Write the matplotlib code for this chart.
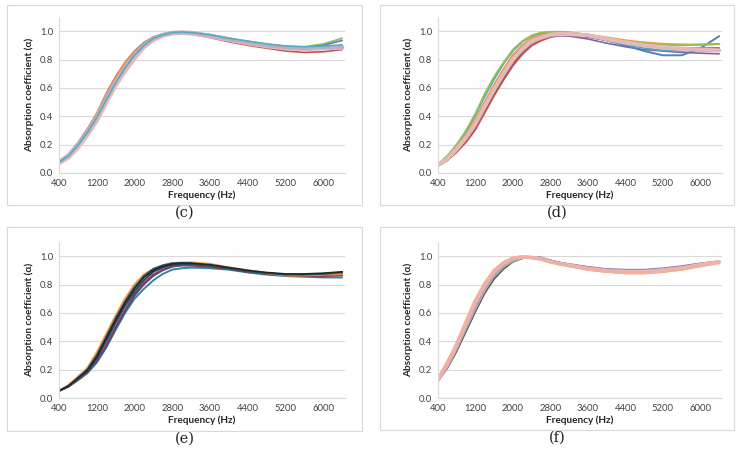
import matplotlib
matplotlib.use("Agg")
import matplotlib.pyplot as plt
from matplotlib.patches import Rectangle

# frequency points (Hz), shared by all panels
freq = [400, 600, 800, 1000, 1200, 1400, 1600, 1800, 2000, 2200, 2400, 2600,
        2800, 3000, 3200, 3600, 4000, 4400, 4800, 5200, 5600, 6000, 6400]

# panel (c)
alpha_c = [
    [0.08, 0.13, 0.21, 0.31, 0.42, 0.56, 0.68, 0.78, 0.86, 0.92, 0.96, 0.98, 0.99, 0.99, 0.98, 0.955, 0.925, 0.90, 0.88, 0.86, 0.85, 0.855, 0.87],
    [0.085, 0.13, 0.215, 0.31, 0.42, 0.555, 0.675, 0.775, 0.855, 0.915, 0.96, 0.98, 0.99, 0.99, 0.985, 0.96, 0.935, 0.91, 0.89, 0.875, 0.87, 0.875, 0.88],
    [0.075, 0.12, 0.20, 0.29, 0.40, 0.53, 0.65, 0.75, 0.84, 0.91, 0.955, 0.98, 0.99, 0.995, 0.99, 0.975, 0.95, 0.93, 0.91, 0.895, 0.89, 0.91, 0.95],
    [0.075, 0.12, 0.195, 0.285, 0.39, 0.515, 0.635, 0.74, 0.83, 0.90, 0.95, 0.975, 0.99, 0.995, 0.99, 0.97, 0.945, 0.925, 0.905, 0.89, 0.885, 0.90, 0.935],
    [0.07, 0.11, 0.18, 0.27, 0.37, 0.50, 0.62, 0.72, 0.81, 0.89, 0.94, 0.97, 0.985, 0.99, 0.985, 0.965, 0.94, 0.915, 0.895, 0.88, 0.875, 0.88, 0.885],
    [0.08, 0.125, 0.20, 0.29, 0.395, 0.525, 0.645, 0.745, 0.835, 0.90, 0.95, 0.975, 0.99, 0.99, 0.99, 0.97, 0.945, 0.92, 0.90, 0.885, 0.88, 0.885, 0.89],
    [0.075, 0.12, 0.195, 0.285, 0.39, 0.515, 0.635, 0.74, 0.83, 0.90, 0.95, 0.975, 0.99, 0.995, 0.99, 0.975, 0.95, 0.93, 0.91, 0.895, 0.89, 0.895, 0.905],
]
colors_c = ["#C0504D", "#F79646", "#9BBB59", "#4F81BD", "#E6B9B8", "#B7AFC9", "#4BACC6"]
widths_c = [1.2, 1.2, 1.3, 1.2, 3.2, 2.6, 1.0]

# panel (d)
alpha_d = [
    [0.05, 0.09, 0.15, 0.22, 0.31, 0.43, 0.55, 0.66, 0.76, 0.84, 0.90, 0.935, 0.96, 0.97, 0.97, 0.96, 0.94, 0.915, 0.895, 0.88, 0.87, 0.865, 0.86],
    [0.055, 0.10, 0.17, 0.25, 0.35, 0.47, 0.59, 0.70, 0.80, 0.87, 0.925, 0.95, 0.965, 0.97, 0.965, 0.945, 0.915, 0.89, 0.87, 0.86, 0.85, 0.845, 0.84],
    [0.055, 0.10, 0.16, 0.24, 0.34, 0.45, 0.57, 0.68, 0.78, 0.86, 0.92, 0.95, 0.97, 0.975, 0.975, 0.96, 0.935, 0.91, 0.895, 0.885, 0.88, 0.88, 0.88],
    [0.06, 0.11, 0.18, 0.27, 0.38, 0.50, 0.62, 0.73, 0.83, 0.90, 0.945, 0.97, 0.985, 0.99, 0.985, 0.965, 0.935, 0.90, 0.86, 0.83, 0.83, 0.88, 0.965],
    [0.06, 0.11, 0.18, 0.27, 0.38, 0.50, 0.62, 0.73, 0.83, 0.90, 0.95, 0.975, 0.99, 0.995, 0.99, 0.975, 0.955, 0.935, 0.92, 0.91, 0.905, 0.905, 0.91],
    [0.06, 0.12, 0.20, 0.29, 0.41, 0.54, 0.66, 0.77, 0.86, 0.925, 0.965, 0.985, 0.995, 0.995, 0.99, 0.97, 0.935, 0.905, 0.88, 0.865, 0.86, 0.865, 0.87],
    [0.06, 0.12, 0.20, 0.30, 0.42, 0.56, 0.68, 0.78, 0.87, 0.93, 0.97, 0.99, 0.995, 0.995, 0.99, 0.975, 0.95, 0.93, 0.915, 0.905, 0.90, 0.905, 0.91],
    [0.055, 0.10, 0.17, 0.25, 0.35, 0.47, 0.59, 0.70, 0.80, 0.875, 0.93, 0.955, 0.975, 0.98, 0.98, 0.97, 0.945, 0.92, 0.90, 0.885, 0.875, 0.87, 0.865],
]
colors_d = ["#C0504D", "#8064A2", "#1F497D", "#4F81BD", "#F79646", "#4BACC6", "#9BBB59", "#E6B9B8"]
widths_d = [1.6, 1.2, 1.2, 1.4, 1.6, 1.2, 1.4, 3.0]

# panel (e)
alpha_e = [
    [0.05, 0.08, 0.125, 0.175, 0.25, 0.355, 0.48, 0.60, 0.70, 0.77, 0.83, 0.875, 0.905, 0.915, 0.92, 0.915, 0.905, 0.885, 0.87, 0.86, 0.855, 0.85, 0.85],
    [0.05, 0.08, 0.13, 0.18, 0.26, 0.37, 0.50, 0.62, 0.73, 0.81, 0.87, 0.905, 0.93, 0.935, 0.935, 0.925, 0.91, 0.89, 0.875, 0.865, 0.86, 0.86, 0.865],
    [0.05, 0.08, 0.13, 0.18, 0.255, 0.36, 0.49, 0.61, 0.72, 0.80, 0.86, 0.90, 0.925, 0.935, 0.935, 0.93, 0.91, 0.89, 0.875, 0.865, 0.86, 0.865, 0.87],
    [0.05, 0.085, 0.14, 0.19, 0.28, 0.40, 0.53, 0.65, 0.75, 0.83, 0.89, 0.92, 0.94, 0.945, 0.945, 0.935, 0.915, 0.895, 0.88, 0.87, 0.865, 0.87, 0.875],
    [0.05, 0.09, 0.15, 0.21, 0.32, 0.45, 0.58, 0.70, 0.80, 0.87, 0.91, 0.935, 0.95, 0.955, 0.955, 0.945, 0.92, 0.90, 0.88, 0.865, 0.865, 0.87, 0.875],
    [0.05, 0.085, 0.14, 0.20, 0.30, 0.43, 0.56, 0.68, 0.78, 0.86, 0.91, 0.935, 0.95, 0.952, 0.95, 0.935, 0.915, 0.895, 0.88, 0.87, 0.87, 0.875, 0.885],
    [0.05, 0.085, 0.14, 0.195, 0.29, 0.42, 0.55, 0.67, 0.77, 0.85, 0.90, 0.93, 0.945, 0.95, 0.95, 0.94, 0.92, 0.90, 0.885, 0.875, 0.875, 0.88, 0.89],
]
colors_e = ["#31859C", "#953735", "#5F497A", "#1F497D", "#F79646", "#215967", "#262626"]
widths_e = [1.4, 1.4, 1.2, 1.4, 1.6, 1.4, 1.2]

# panel (f)
alpha_f = [
    [0.12, 0.21, 0.33, 0.47, 0.61, 0.74, 0.84, 0.91, 0.96, 0.985, 0.995, 0.99, 0.97, 0.955, 0.94, 0.92, 0.905, 0.90, 0.90, 0.91, 0.925, 0.945, 0.96],
    [0.12, 0.22, 0.34, 0.49, 0.63, 0.76, 0.86, 0.925, 0.965, 0.99, 0.995, 0.99, 0.97, 0.955, 0.945, 0.925, 0.91, 0.905, 0.905, 0.915, 0.93, 0.95, 0.965],
    [0.12, 0.22, 0.35, 0.49, 0.63, 0.76, 0.86, 0.925, 0.965, 0.99, 0.995, 0.99, 0.97, 0.955, 0.94, 0.92, 0.905, 0.90, 0.90, 0.91, 0.925, 0.945, 0.965],
    [0.12, 0.22, 0.35, 0.50, 0.64, 0.77, 0.87, 0.93, 0.97, 0.99, 0.995, 0.985, 0.965, 0.95, 0.94, 0.92, 0.905, 0.895, 0.895, 0.905, 0.92, 0.94, 0.96],
    [0.13, 0.24, 0.37, 0.52, 0.67, 0.79, 0.885, 0.945, 0.98, 0.995, 0.99, 0.98, 0.96, 0.945, 0.93, 0.905, 0.89, 0.88, 0.88, 0.89, 0.905, 0.93, 0.955],
    [0.13, 0.245, 0.375, 0.53, 0.68, 0.80, 0.895, 0.95, 0.985, 0.995, 0.99, 0.98, 0.96, 0.945, 0.935, 0.91, 0.895, 0.89, 0.89, 0.90, 0.915, 0.94, 0.96],
    [0.13, 0.25, 0.38, 0.54, 0.69, 0.81, 0.90, 0.955, 0.985, 0.995, 0.99, 0.98, 0.96, 0.945, 0.935, 0.91, 0.895, 0.885, 0.885, 0.895, 0.91, 0.935, 0.955],
]
colors_f = ["#4F6228", "#8064A2", "#95B3D7", "#B3A2C7", "#F79646", "#E6B9B8", "#F2B0A0"]
widths_f = [1.2, 1.2, 1.4, 1.6, 1.6, 2.6, 2.4]

xticks = [400, 1200, 2000, 2800, 3600, 4400, 5200, 6000]
yticks = [0.0, 0.2, 0.4, 0.6, 0.8, 1.0]

W, H = 742, 455
fig = plt.figure(figsize=(W / 100, H / 100), dpi=100)
fig.patch.set_facecolor("white")

tick_font = "Lato"
grid_col = "#D9D9D9"
text_col = "#404040"


def px_axes(left, top, right, bottom):
    return fig.add_axes([left / W, 1 - bottom / H, (right - left) / W, (bottom - top) / H])


def draw_panel(box, area, data, colors, widths, tag):
    bx0, by0, bx1, by1 = box
    fig.add_artist(Rectangle((bx0 / W, 1 - by1 / H), (bx1 - bx0) / W, (by1 - by0) / H,
                             transform=fig.transFigure, fill=False, edgecolor="#D9D9D9", lw=0.8))
    ax = px_axes(*area)
    for vals, c, w in zip(data, colors, widths):
        ax.plot(freq, vals, color=c, lw=w, solid_capstyle="round", solid_joinstyle="round")
    ax.set_xlim(400, 6460)
    ax.set_ylim(0, 1.1)
    ax.set_xticks(xticks)
    ax.set_yticks(yticks)
    ax.set_yticklabels([f"{v:.1f}" for v in yticks])
    ax.grid(axis="y", color=grid_col, lw=0.8)
    ax.set_axisbelow(True)
    for s in ["top", "right"]:
        ax.spines[s].set_visible(False)
    for s in ["left", "bottom"]:
        ax.spines[s].set_color(grid_col)
        ax.spines[s].set_linewidth(0.8)
    ax.tick_params(length=0, labelsize=6.8, colors=text_col, pad=4)
    for lab in ax.get_xticklabels() + ax.get_yticklabels():
        lab.set_fontfamily(tick_font)
    ax.set_xlabel("Frequency (Hz)", fontsize=7.2, fontweight="bold", family=tick_font,
                  color="#262626", labelpad=2)
    ax.set_ylabel("Absorption coefficient (\u03b1)", fontsize=7.2, fontweight="bold",
                  family=[tick_font, "DejaVu Sans"], color="#262626", labelpad=4)
    fig.text((bx0 + bx1) / 2 / W, 1 - (by1 + 8) / H, f"({tag})", ha="center", va="center",
             fontsize=10.5, family="DejaVu Serif", color="#222222")
    return ax


draw_panel((7, 5, 362, 205), (59, 17, 345, 173), alpha_c, colors_c, widths_c, "c")
draw_panel((380, 5, 734, 205), (438, 17, 722, 173), alpha_d, colors_d, widths_d, "d")
draw_panel((7, 227, 362, 431), (59, 242, 345, 398), alpha_e, colors_e, widths_e, "e")
draw_panel((380, 227, 734, 430), (438, 242, 722, 398), alpha_f, colors_f, widths_f, "f")

fig.savefig("out.png", dpi=100)
